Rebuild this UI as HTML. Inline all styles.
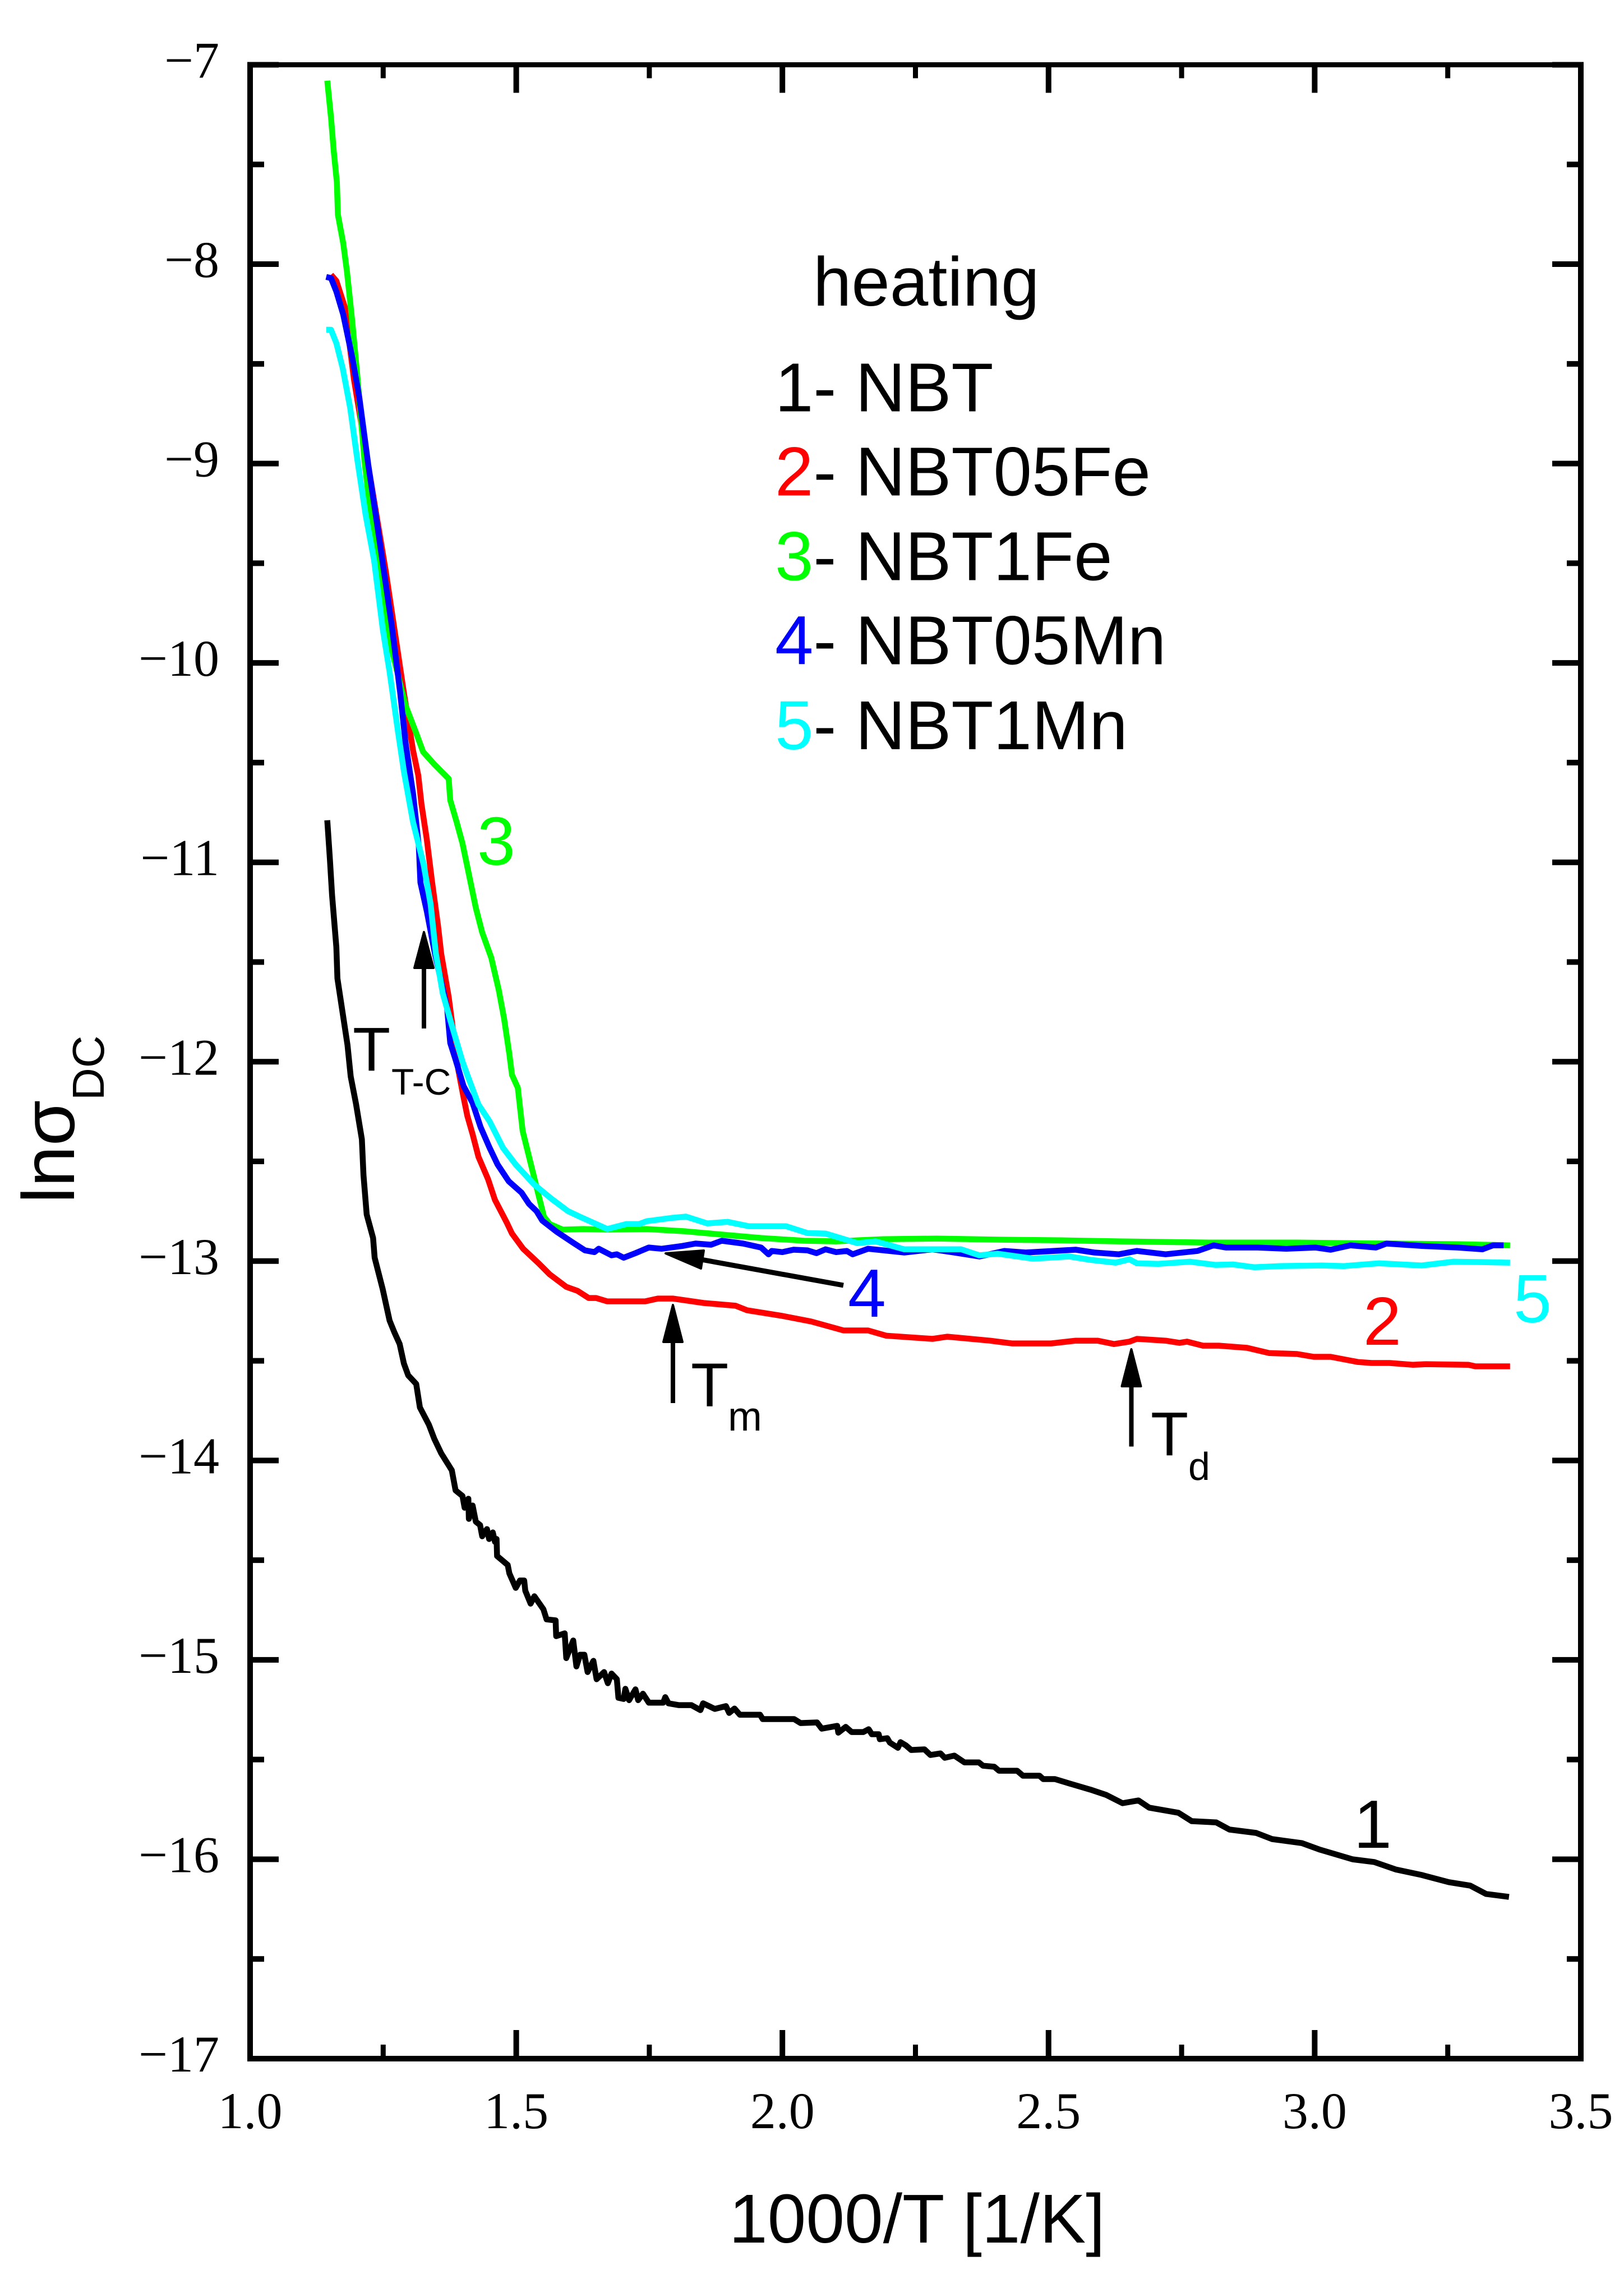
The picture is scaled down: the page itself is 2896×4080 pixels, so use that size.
<!DOCTYPE html>
<html lang="en">
<head>
<meta charset="utf-8">
<title>lnσDC vs 1000/T</title>
<style>
html,body{margin:0;padding:0;background:#fff;}
svg{display:block;}
.sans{font-family:"Liberation Sans",Arial,sans-serif;}
.serif{font-family:"Liberation Serif","Times New Roman",serif;}
</style>
</head>
<body>
<svg id="chart" xmlns="http://www.w3.org/2000/svg" width="2896" height="4080" viewBox="0 0 2896 4080">
  <rect x="0" y="0" width="2896" height="4080" fill="#fff"/>
  <g id="series-layer"></g>
  <g id="axis-layer"></g>

  <text class="sans" x="1300" y="3999" font-size="123.5">1000/T [1/K]</text>
  <g>
    <text class="sans" font-size="132" transform="translate(132 2146) rotate(-90)">lnσ</text>
    <text class="sans" font-size="80" transform="translate(185 1962) rotate(-90)">DC</text>
  </g>

  <g class="sans" font-size="123">
    <text x="1450" y="545">heating</text>
    <text x="1382" y="733.5"><tspan fill="#000">1</tspan>- NBT</text>
    <text x="1382" y="883.5"><tspan fill="#ff0000">2</tspan>- NBT05Fe</text>
    <text x="1382" y="1034.5"><tspan fill="#00ff00">3</tspan>- NBT1Fe</text>
    <text x="1382" y="1184.5"><tspan fill="#0000ff">4</tspan>- NBT05Mn</text>
    <text x="1382" y="1336"><tspan fill="#00ffff">5</tspan>- NBT1Mn</text>
  </g>

  <g class="sans" font-size="122">
    <text x="2414" y="3295" fill="#000">1</text>
    <text x="2431" y="2398" fill="#ff0000">2</text>
    <text x="851" y="1542" fill="#00ff00">3</text>
    <text x="1512" y="2348" fill="#0000ff">4</text>
    <text x="2699" y="2358" fill="#00ffff">5</text>
  </g>

  <g class="sans">
    <text x="629" y="1909" font-size="110">T</text>
    <text x="698" y="1952" font-size="66">T-C</text>
    <text x="1232" y="2507.5" font-size="110">T</text>
    <text x="1298" y="2551" font-size="73">m</text>
    <text x="2052" y="2595" font-size="110">T</text>
    <text x="2119" y="2639" font-size="70">d</text>

    <g>
      <line x1="756" y1="1834" x2="756" y2="1720" stroke="#000" stroke-width="8"/>
      <polygon points="756,1662 773,1726 739,1726" fill="#000" stroke="#000" stroke-width="4" stroke-linejoin="round"/>
    </g>
    <g>
      <line x1="1200" y1="2502" x2="1200" y2="2388" stroke="#000" stroke-width="8"/>
      <polygon points="1200,2327 1217,2393 1183,2393" fill="#000" stroke="#000" stroke-width="4" stroke-linejoin="round"/>
    </g>
    <g>
      <line x1="2017.5" y1="2579.5" x2="2017.5" y2="2468" stroke="#000" stroke-width="8"/>
      <polygon points="2017.5,2406 2034.5,2472 2000.5,2472" fill="#000" stroke="#000" stroke-width="4" stroke-linejoin="round"/>
    </g>
    <g>
      <line x1="1504" y1="2292" x2="1245" y2="2245" stroke="#000" stroke-width="9"/>
      <polygon points="1187,2235 1255,2230 1250,2262" fill="#000" stroke="#000" stroke-width="4" stroke-linejoin="round"/>
    </g>
  </g>
</svg>

<script>
// Axis ticks and labels
var xMajorTicks = [1.0, 1.5, 2.0, 2.5, 3.0, 3.5];
var xTickLabels = ["1.0", "1.5", "2.0", "2.5", "3.0", "3.5"];
var xMinorTicks = [1.25, 1.75, 2.25, 2.75, 3.25];
var yMajorTicks = [-7, -8, -9, -10, -11, -12, -13, -14, -15, -16, -17];
var yTickLabels = ["\u22127", "\u22128", "\u22129", "\u221210", "\u221211", "\u221212", "\u221213", "\u221214", "\u221215", "\u221216", "\u221217"];
var yMinorTicks = [-7.5, -8.5, -9.5, -10.5, -11.5, -12.5, -13.5, -14.5, -15.5, -16.5];

// Series 1 - NBT
var nbtX = [1.145,1.150,1.154,1.162,1.164,1.173,1.183,1.189,1.199,1.210,1.213,1.219,1.231,1.234,1.249,1.262,1.271,1.281,1.289,1.297,1.312,1.319,1.336,1.346,1.359,1.379,1.386,1.399,1.403,1.410,1.411,1.418,1.424,1.432,1.436,1.445,1.449,1.456,1.460,1.463,1.464,1.484,1.487,1.499,1.507,1.515,1.517,1.527,1.534,1.551,1.557,1.574,1.575,1.591,1.594,1.607,1.613,1.620,1.628,1.634,1.645,1.651,1.665,1.672,1.679,1.689,1.692,1.702,1.705,1.712,1.724,1.729,1.738,1.749,1.776,1.780,1.786,1.805,1.829,1.846,1.851,1.873,1.894,1.900,1.910,1.920,1.958,1.963,2.022,2.034,2.065,2.074,2.103,2.105,2.119,2.130,2.152,2.162,2.168,2.181,2.183,2.197,2.202,2.217,2.222,2.232,2.242,2.267,2.278,2.297,2.305,2.323,2.342,2.369,2.377,2.398,2.407,2.441,2.452,2.483,2.490,2.512,2.543,2.579,2.608,2.639,2.669,2.689,2.744,2.769,2.815,2.840,2.890,2.920,2.976,3.010,3.071,3.112,3.152,3.201,3.252,3.292,3.322,3.365];
var nbtY = [-10.789,-10.989,-11.166,-11.425,-11.582,-11.740,-11.917,-12.074,-12.212,-12.389,-12.569,-12.766,-12.884,-12.983,-13.140,-13.298,-13.357,-13.416,-13.514,-13.573,-13.616,-13.734,-13.821,-13.891,-13.964,-14.049,-14.150,-14.178,-14.237,-14.192,-14.293,-14.226,-14.307,-14.324,-14.380,-14.344,-14.394,-14.361,-14.408,-14.394,-14.479,-14.524,-14.566,-14.639,-14.602,-14.602,-14.653,-14.718,-14.681,-14.746,-14.797,-14.802,-14.881,-14.867,-14.991,-14.903,-15.033,-14.974,-14.974,-15.061,-15.005,-15.097,-15.061,-15.117,-15.069,-15.097,-15.190,-15.196,-15.145,-15.202,-15.148,-15.202,-15.170,-15.215,-15.215,-15.187,-15.218,-15.227,-15.227,-15.252,-15.218,-15.246,-15.232,-15.266,-15.244,-15.275,-15.275,-15.297,-15.297,-15.317,-15.314,-15.345,-15.331,-15.365,-15.336,-15.362,-15.362,-15.348,-15.373,-15.373,-15.398,-15.393,-15.415,-15.441,-15.413,-15.429,-15.452,-15.449,-15.477,-15.469,-15.491,-15.480,-15.514,-15.514,-15.531,-15.536,-15.556,-15.556,-15.581,-15.581,-15.598,-15.598,-15.623,-15.651,-15.677,-15.719,-15.705,-15.741,-15.767,-15.809,-15.815,-15.851,-15.868,-15.899,-15.919,-15.952,-16.000,-16.014,-16.051,-16.079,-16.115,-16.132,-16.174,-16.189];

// Series 2 - NBT05Fe
var fe05X = [1.152,1.162,1.178,1.195,1.255,1.272,1.289,1.306,1.316,1.322,1.332,1.342,1.353,1.359,1.373,1.391,1.401,1.408,1.418,1.429,1.447,1.460,1.482,1.492,1.513,1.542,1.563,1.594,1.615,1.636,1.650,1.671,1.742,1.766,1.794,1.852,1.912,1.934,2.000,2.054,2.115,2.161,2.195,2.282,2.310,2.390,2.431,2.505,2.551,2.592,2.623,2.652,2.666,2.720,2.746,2.760,2.790,2.820,2.873,2.914,2.967,2.998,3.030,3.081,3.107,3.141,3.184,3.209,3.289,3.302,3.367];
var fe05Y = [-8.053,-8.084,-8.216,-8.576,-9.541,-9.847,-10.151,-10.438,-10.564,-10.708,-10.885,-11.101,-11.318,-11.459,-11.675,-12.038,-12.178,-12.271,-12.364,-12.477,-12.589,-12.693,-12.806,-12.862,-12.938,-13.011,-13.067,-13.129,-13.149,-13.185,-13.185,-13.202,-13.202,-13.188,-13.188,-13.210,-13.224,-13.247,-13.275,-13.303,-13.348,-13.348,-13.374,-13.390,-13.379,-13.399,-13.413,-13.413,-13.399,-13.399,-13.416,-13.404,-13.390,-13.399,-13.410,-13.404,-13.424,-13.424,-13.435,-13.461,-13.466,-13.480,-13.480,-13.506,-13.511,-13.511,-13.520,-13.517,-13.520,-13.528,-13.528];

// Series 3 - NBT1Fe
var fe1X = [1.145,1.152,1.157,1.163,1.165,1.175,1.182,1.192,1.202,1.215,1.229,1.258,1.292,1.311,1.325,1.346,1.373,1.376,1.388,1.399,1.413,1.424,1.436,1.453,1.467,1.477,1.487,1.492,1.503,1.512,1.524,1.538,1.552,1.563,1.587,1.626,1.671,1.745,1.819,1.886,1.960,2.041,2.101,2.189,2.290,2.424,2.525,2.632,2.800,2.967,3.135,3.269,3.367];
var fe1Y = [-7.080,-7.266,-7.429,-7.589,-7.752,-7.896,-8.039,-8.289,-8.576,-8.990,-9.310,-9.847,-10.213,-10.345,-10.446,-10.508,-10.581,-10.688,-10.798,-10.905,-11.085,-11.228,-11.352,-11.478,-11.639,-11.782,-11.962,-12.066,-12.131,-12.347,-12.477,-12.628,-12.777,-12.814,-12.842,-12.839,-12.842,-12.839,-12.851,-12.867,-12.884,-12.898,-12.901,-12.890,-12.887,-12.893,-12.896,-12.901,-12.907,-12.907,-12.912,-12.915,-12.921];

// Series 4 - NBT05Mn
var mn05X = [1.143,1.152,1.162,1.175,1.192,1.205,1.222,1.242,1.266,1.282,1.292,1.306,1.317,1.320,1.332,1.347,1.370,1.376,1.386,1.401,1.418,1.433,1.450,1.465,1.486,1.510,1.524,1.538,1.549,1.576,1.608,1.629,1.647,1.655,1.679,1.689,1.702,1.724,1.749,1.773,1.812,1.837,1.866,1.886,1.926,1.960,1.974,1.980,2.000,2.021,2.047,2.064,2.081,2.101,2.121,2.132,2.161,2.229,2.282,2.323,2.370,2.417,2.457,2.551,2.586,2.632,2.666,2.720,2.780,2.810,2.833,2.893,2.947,3.001,3.030,3.067,3.115,3.135,3.201,3.269,3.315,3.335,3.355];
var mn05Y = [-8.064,-8.070,-8.137,-8.253,-8.469,-8.666,-9.006,-9.366,-9.811,-10.151,-10.401,-10.654,-10.921,-11.101,-11.245,-11.456,-11.729,-11.906,-11.990,-12.122,-12.207,-12.328,-12.432,-12.516,-12.600,-12.657,-12.713,-12.749,-12.797,-12.853,-12.910,-12.946,-12.955,-12.938,-12.971,-12.966,-12.983,-12.960,-12.932,-12.938,-12.924,-12.912,-12.918,-12.898,-12.912,-12.932,-12.966,-12.949,-12.955,-12.943,-12.946,-12.960,-12.941,-12.955,-12.949,-12.966,-12.938,-12.957,-12.941,-12.957,-12.977,-12.949,-12.957,-12.943,-12.957,-12.966,-12.949,-12.966,-12.949,-12.921,-12.932,-12.932,-12.938,-12.932,-12.943,-12.921,-12.932,-12.912,-12.924,-12.932,-12.941,-12.921,-12.921];

// Series 5 - NBT1Mn
var mn1X = [1.143,1.152,1.162,1.174,1.188,1.202,1.217,1.233,1.249,1.262,1.278,1.289,1.306,1.326,1.339,1.349,1.362,1.379,1.399,1.408,1.429,1.450,1.475,1.499,1.534,1.566,1.597,1.619,1.671,1.707,1.731,1.745,1.794,1.819,1.859,1.897,1.937,2.007,2.047,2.081,2.141,2.175,2.229,2.336,2.370,2.404,2.471,2.539,2.579,2.626,2.652,2.666,2.706,2.766,2.813,2.847,2.887,2.934,3.014,3.055,3.121,3.201,3.261,3.315,3.367];
var mn1Y = [-8.329,-8.329,-8.396,-8.523,-8.720,-8.990,-9.257,-9.487,-9.828,-10.044,-10.348,-10.545,-10.798,-11.011,-11.208,-11.459,-11.658,-11.818,-11.999,-12.066,-12.215,-12.299,-12.432,-12.516,-12.617,-12.687,-12.749,-12.777,-12.839,-12.814,-12.814,-12.800,-12.783,-12.777,-12.811,-12.803,-12.825,-12.825,-12.859,-12.862,-12.910,-12.901,-12.941,-12.941,-12.971,-12.963,-12.988,-12.977,-12.994,-13.008,-12.991,-13.011,-13.014,-13.003,-13.019,-13.017,-13.031,-13.025,-13.022,-13.025,-13.011,-13.022,-13.003,-13.005,-13.008];

var seriesNames = ["curve-1-nbt", "curve-2-nbt05fe", "curve-3-nbt1fe", "curve-4-nbt05mn", "curve-5-nbt1mn"];
var seriesColors = ["#000000", "#ff0000", "#00ff00", "#0000ff", "#00ffff"];
var seriesXs = [nbtX, fe05X, fe1X, mn05X, mn1X];
var seriesYs = [nbtY, fe05Y, fe1Y, mn05Y, mn1Y];

var SVGNS = "http://www.w3.org/2000/svg";
var plotLeft = 446, plotRight = 2819, plotTop = 115.5, plotBottom = 3671;
var xMin = 1.0, xMax = 3.5, yMax = -7, yMin = -17;

function xScale(v) { return plotLeft + (v - xMin) / (xMax - xMin) * (plotRight - plotLeft); }
function yScale(v) { return plotTop + (yMax - v) / (yMax - yMin) * (plotBottom - plotTop); }

var axisLayer = document.getElementById("axis-layer");
var seriesLayer = document.getElementById("series-layer");

function makeLine(x1, y1, x2, y2, w) {
  var el = document.createElementNS(SVGNS, "line");
  el.setAttribute("x1", x1);
  el.setAttribute("y1", y1);
  el.setAttribute("x2", x2);
  el.setAttribute("y2", y2);
  el.setAttribute("stroke", "#000");
  el.setAttribute("stroke-width", w);
  axisLayer.appendChild(el);
  return el;
}

function makeLabel(str, x, y, anchor) {
  var el = document.createElementNS(SVGNS, "text");
  el.setAttribute("x", x);
  el.setAttribute("y", y);
  el.setAttribute("text-anchor", anchor);
  el.setAttribute("font-size", "92");
  el.setAttribute("class", "serif");
  el.textContent = str;
  axisLayer.appendChild(el);
  return el;
}

// Frame
var frameLeft = makeLine(plotLeft, plotTop - 5, plotLeft, plotBottom + 5, 10);


var frameRight = makeLine(plotRight, plotTop - 5, plotRight, plotBottom + 5, 10);


var frameTop = makeLine(plotLeft - 5, plotTop, plotRight + 5, plotTop, 9);


var frameBottom = makeLine(plotLeft - 5, plotBottom, plotRight + 5, plotBottom, 10);



var MAJOR = 46, MINOR = 20;

// X ticks (bottom and top, pointing inward)
xMajorTicks.forEach(function (v, i) {
  var px = xScale(v);
  var b = makeLine(px, plotBottom - 5, px, plotBottom - 5 - MAJOR, 10);
  
  
  var t = makeLine(px, plotTop + 4, px, plotTop + 4 + MAJOR, 10);
  
  
  var lab = makeLabel(xTickLabels[i], px, 3795, "middle");
  
  
});
xMinorTicks.forEach(function (v) {
  var px = xScale(v);
  var b = makeLine(px, plotBottom - 5, px, plotBottom - 5 - MINOR, 9);
  
  
  var t = makeLine(px, plotTop + 4, px, plotTop + 4 + MINOR, 9);
  
  
});

// Y ticks (left and right, pointing inward)
yMajorTicks.forEach(function (v, i) {
  var py = yScale(v);
  var l = makeLine(plotLeft + 5, py, plotLeft + 5 + MAJOR, py, 10);
  
  
  var r = makeLine(plotRight - 5, py, plotRight - 5 - MAJOR, py, 10);
  
  
  var lab = makeLabel(yTickLabels[i], 391, py + 23, "end");
  
  
});
yMinorTicks.forEach(function (v) {
  var py = yScale(v);
  var l = makeLine(plotLeft + 5, py, plotLeft + 5 + MINOR, py, 10);
  
  
  var r = makeLine(plotRight - 5, py, plotRight - 5 - MINOR, py, 10);
  
  
});

// Series
seriesNames.forEach(function (name, s) {
  var xs = seriesXs[s], ys = seriesYs[s], d = "";
  for (var i = 0; i < xs.length; i++) {
    d += (i ? "L" : "M") + xScale(xs[i]).toFixed(1) + " " + yScale(ys[i]).toFixed(1);
  }
  var path = document.createElementNS(SVGNS, "path");
  path.setAttribute("d", d);
  path.setAttribute("fill", "none");
  path.setAttribute("stroke", seriesColors[s]);
  path.setAttribute("stroke-width", "10.5");
  path.setAttribute("stroke-linejoin", "round");
  
  
  seriesLayer.appendChild(path);
});
</script>
</body>
</html>
